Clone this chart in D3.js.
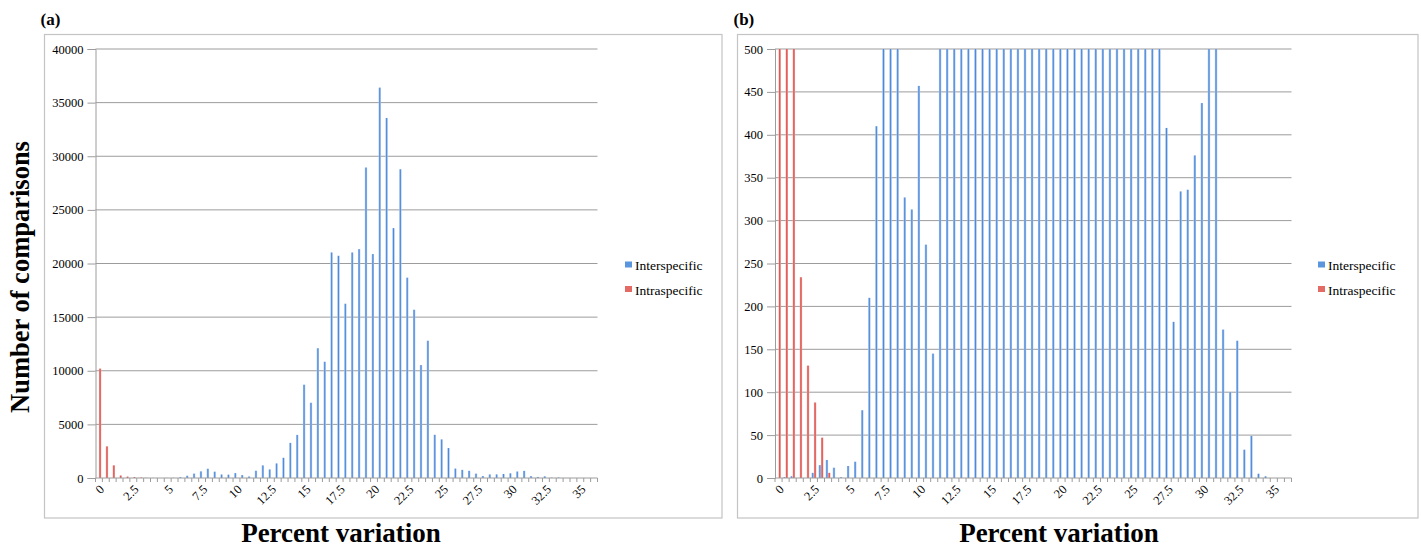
<!DOCTYPE html>
<html><head><meta charset="utf-8">
<script src="https://cdn.jsdelivr.net/npm/d3@7"></script>
<style>
body{margin:0;background:#fff}
svg{display:block}
text{font-family:"Liberation Serif","Times New Roman",serif;fill:#000}
</style>
</head><body><svg id="chart" width="1421" height="548"></svg>
<script>
// ---------- data ----------
const categories = ["0","0.5","1","1.5","2","2.5","3","3.5","4","4.5","5","5.5","6","6.5","7","7.5","8","8.5","9","9.5",
  "10","10.5","11","11.5","12","12.5","13","13.5","14","14.5","15","15.5","16","16.5","17","17.5","18","18.5","19","19.5",
  "20","20.5","21","21.5","22","22.5","23","23.5","24","24.5","25","25.5","26","26.5","27","27.5","28","28.5","29","29.5",
  "30","30.5","31","31.5","32","32.5","33","33.5","34","34.5","35","35.5","36"];
const tickLabels = ["0","2.5","5","7.5","10","12.5","15","17.5","20","22.5","25","27.5","30","32.5","35"];
const seriesNames = ["Interspecific","Intraspecific"];
const interspecific = [0,1,2,0,0,6,15,21,12,1,
  14,19,79,210,410,620,865,590,327,313,
  457,272,145,680,1175,800,1360,1885,3275,4017,
  8700,7015,12100,10840,21030,20720,16250,21030,21340,28950,
  20880,36400,33570,23300,28790,18680,15690,10530,12800,4030,
  3600,2790,880,760,670,408,182,334,336,376,
  437,606,667,173,100,160,33,49,5,2,
  0,0,0];
const intraspecific = [10200,2950,1180,234,131,88,47,6,0,0,
  0,0,0,0,0,0,0,0,0,0,
  0,0,0,0,0,0,0,0,0,0,
  0,0,0,0,0,0,0,0,0,0,
  0,0,0,0,0,0,0,0,0,0,
  0,0,0,0,0,0,0,0,0,0,
  0,0,0,0,0,0,0,0,0,0,
  0,0,0];
const yTicksA = [0,5000,10000,15000,20000,25000,30000,35000,40000];
const yTicksB = [0,50,100,150,200,250,300,350,400,450,500];
const panelTags = ["(a)","(b)"];
const xTitle = "Percent variation";
const yTitle = "Number of comparisons";

// ---------- layout ----------
const svg = d3.select("#chart");
const defs = svg.append("defs");
function grad(id, edge, mid){
  const g = defs.append("linearGradient").attr("id", id).attr("x1","0").attr("x2","1").attr("y1","0").attr("y2","0");
  g.append("stop").attr("offset","0%").attr("stop-color", edge);
  g.append("stop").attr("offset","50%").attr("stop-color", mid);
  g.append("stop").attr("offset","100%").attr("stop-color", edge);
}
grad("gBlue", "#a6c6f0", "#4d88d7");
grad("gRed", "#f2a8a5", "#db4843");
const fills = {Interspecific:"url(#gBlue)", Intraspecific:"url(#gRed)"};
const keyColors = {Interspecific:"#5b95dd", Intraspecific:"#e46a66"};

const panels = [
  {tag:panelTags[0], border:[44.5,34.5,722,518], left:95.5, right:597.5, top:49, bottom:478, yMax:40000, ticks:yTicksA, legendX:625, titleX:341},
  {tag:panelTags[1], border:[737.5,34.5,1418,518], left:775, right:1291.5, top:49, bottom:478, yMax:500, ticks:yTicksB, legendX:1318, titleX:1059}
];

const table = categories.map((c,i)=>({cat:c, Interspecific:interspecific[i], Intraspecific:intraspecific[i]}));

panels.forEach((p, pi) => {
  const g = svg.append("g");
  g.append("rect").attr("x",p.border[0]).attr("y",p.border[1])
    .attr("width",p.border[2]-p.border[0]).attr("height",p.border[3]-p.border[1])
    .attr("fill","none").attr("stroke","#c4c4c4").attr("stroke-width",1.2);
  g.append("text").attr("x",p.border[0]-4).attr("y",25).attr("font-weight","bold").attr("font-size",17).text(p.tag);

  const x = d3.scaleBand().domain(categories).range([p.left,p.right]).padding(0);
  const x1 = d3.scaleBand().domain(seriesNames).range([0,x.bandwidth()]).paddingInner(0).paddingOuter(0.5);
  const y = d3.scaleLinear().domain([0,p.yMax]).range([p.bottom,p.top]);

  g.append("g").selectAll("line").data(p.ticks.filter(t=>t>0)).join("line")
    .attr("x1",p.left).attr("x2",p.right).attr("y1",d=>y(d)).attr("y2",d=>y(d))
    .attr("stroke","#9c9c9c").attr("stroke-width",1);

  const ya = d3.axisLeft(y).tickValues(p.ticks).tickSize(8).tickPadding(4).tickFormat(d3.format("d"));
  const yg = g.append("g").attr("transform",`translate(${p.left},0)`).call(ya);
  yg.select(".domain").attr("stroke","#9c9c9c");
  yg.selectAll(".tick line").attr("stroke","#9c9c9c");
  yg.selectAll(".tick text").attr("font-size",12.5).attr("fill","#000");

  const clipId = "clip"+pi;
  defs.append("clipPath").attr("id",clipId).append("rect")
    .attr("x",p.left).attr("y",p.top).attr("width",p.right-p.left).attr("height",p.bottom-p.top);
  const bars = g.append("g").attr("clip-path",`url(#${clipId})`);
  seriesNames.forEach(s => {
    bars.append("g").selectAll("rect").data(table.filter(d=>d[s]>0)).join("rect")
      .attr("x",d=>x(d.cat)+x1(s))
      .attr("width",x1.bandwidth())
      .attr("y",d=>y(Math.min(d[s],p.yMax*1.02)))
      .attr("height",d=>p.bottom-y(Math.min(d[s],p.yMax*1.02)))
      .attr("fill",fills[s]);
  });

  const xg = g.append("g");
  xg.append("line").attr("x1",p.left).attr("x2",p.right).attr("y1",p.bottom).attr("y2",p.bottom)
    .attr("stroke","#9c9c9c").attr("stroke-width",1);
  const bounds = categories.map(c=>x(c)).concat([p.right]);
  xg.selectAll("line.tk").data(bounds).join("line").attr("class","tk")
    .attr("x1",d=>d).attr("x2",d=>d).attr("y1",p.bottom).attr("y2",p.bottom+4)
    .attr("stroke","#9c9c9c").attr("stroke-width",1);
  xg.selectAll("text").data(tickLabels).join("text")
    .attr("transform",d=>`translate(${x(d)+x.bandwidth()/2+3},${p.bottom+9}) rotate(-45)`)
    .attr("text-anchor","end").attr("dy","0.35em").attr("font-size",12.5).text(d=>d);

  const lg = g.append("g");
  seriesNames.forEach((s,k)=>{
    lg.append("rect").attr("x",p.legendX).attr("y",261.5+k*24.5).attr("width",7).attr("height",6).attr("fill",keyColors[s]);
    lg.append("text").attr("x",p.legendX+10).attr("y",270+k*24.5).attr("font-size",13.5).text(s);
  });

  g.append("text").attr("x",p.titleX).attr("y",542).attr("text-anchor","middle")
    .attr("font-weight","bold").attr("font-size",27).text(xTitle);
});

svg.append("text").attr("transform","translate(29,277) rotate(-90)").attr("text-anchor","middle")
  .attr("font-weight","bold").attr("font-size",26.5).text(yTitle);
</script>
</body></html>
